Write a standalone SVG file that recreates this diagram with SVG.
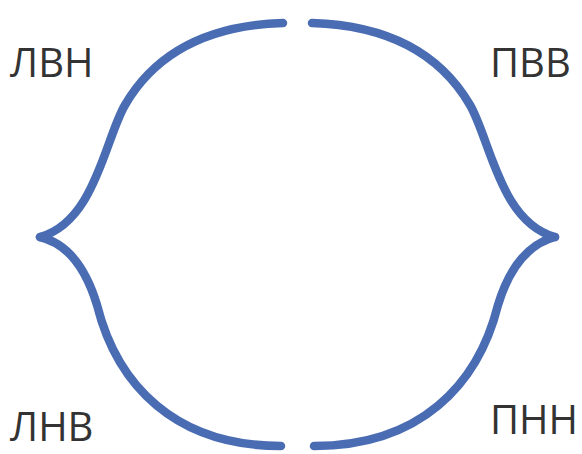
<svg xmlns="http://www.w3.org/2000/svg" width="582" height="454" viewBox="0 0 582 454">
<style>
.br{fill:none;stroke:#4a6cb3;stroke-width:8.5;stroke-linecap:round;stroke-linejoin:round}
.lb{font-family:"Open Sans","Noto Sans",sans-serif;font-size:40px;fill:#333}
</style>
<rect width="582" height="454" fill="#fff"/>
<g id="connectors">
<g id="left-brace">
<path class="br" d="M283,23 C220,25 160,45 125,105 C105,139 95,222 40,237"/>
<path class="br" d="M281,446 C175,446 117,385 97,305 C87,272 70,244 40,237"/>
</g>
<g id="right-brace">
<path class="br" d="M312,23 C375,25 435,45 470,105 C490,139 500,222 555,237"/>
<path class="br" d="M314,446 C420,446 478,385 498,305 C508,272 525,245 555,237"/>
</g>
</g>
<g id="lvn"><text class="lb" x="10" y="77">ЛВН</text></g>
<g id="pvv"><text class="lb" x="490" y="77">ПВВ</text></g>
<g id="lnv"><text class="lb" x="10" y="441">ЛНВ</text></g>
<g id="pnn"><text class="lb" x="490" y="434">ПНН</text></g>
</svg>
